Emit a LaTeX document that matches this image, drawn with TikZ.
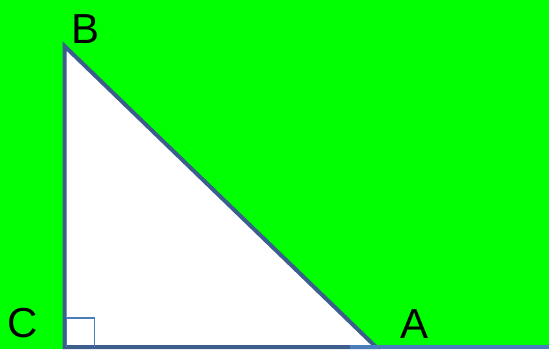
\documentclass[tikz,border=0pt]{standalone}
\usepackage{fontspec}
\setmainfont{Liberation Sans}
\usepackage{xcolor}
\usetikzlibrary{positioning,calc}
\definecolor{bggreen}{HTML}{00FF00}
\definecolor{edgeblue}{HTML}{3B5E8C}
\definecolor{lightblue}{HTML}{4A7EBB}

\begin{document}
\begin{tikzpicture}[x=1pt, y=-1pt,
        side/.style={draw=edgeblue, line width=4pt, line join=miter},
        rightmark/.style={draw=lightblue, line width=1.3pt},
        vlabel/.style={font=\fontsize{42}{42}\selectfont, inner sep=0pt}]
    \fill[bggreen] (0,0) rectangle (549,349);
    \useasboundingbox (0,0) rectangle (549,349);

    \coordinate (C) at (64.5,347);
    \coordinate (B) at (64.5,46);
    \coordinate (A) at (376,347);
    \coordinate (end) at (549,347);

    % triangle
    \filldraw[side, fill=white] (C) -- (B) -- (A) -- cycle;
    \draw[lightblue, line width=4pt] ($(A)+(-26,0)$) -- (end);
    % right angle
    \draw[rightmark] ($(C)+(2,0)$) |- ($(C)+(30,-29)$) -- ($(C)+(30,0)$);

    \node[vlabel] (lb) at (86,29) {B};
    \node[vlabel] (lc) at (23,323) {C};
    \node[vlabel] (la) at (414.5,324) {A};
\end{tikzpicture}
\end{document}
